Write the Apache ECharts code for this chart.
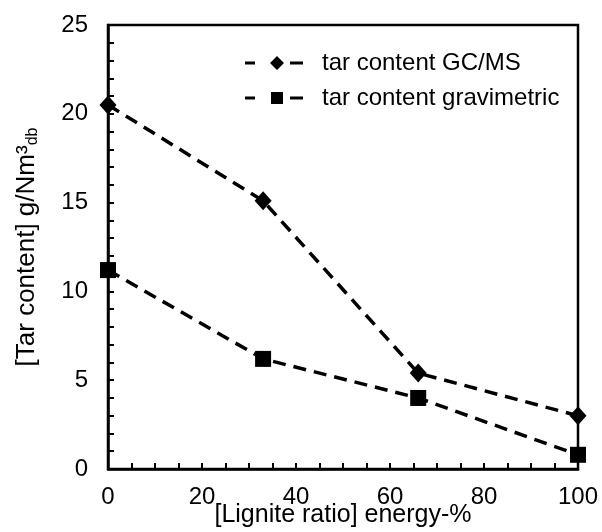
<!DOCTYPE html>
<html>
<head>
<meta charset="utf-8">
<script src="https://cdn.jsdelivr.net/npm/echarts@6/dist/echarts.min.js"></script>
<style>
  html, body { margin: 0; padding: 0; background: #fff; }
  #chart { width: 602px; height: 532px; }
</style>
</head>
<body>
<div id="chart"></div>
<script>
// Lignite share of the fuel energy input, %
const ligniteRatio = [0, 33, 66, 100];
// Tar content measured by GC/MS, g/Nm³ (dry basis)
const tarGCMS = [20.5, 15.1, 5.4, 3.0];
// Tar content measured gravimetrically, g/Nm³ (dry basis)
const tarGravimetric = [11.2, 6.2, 4.0, 0.8];

const seriesNames = ['tar content GC/MS', 'tar content gravimetric'];
const xTicks = [0, 20, 40, 60, 80, 100];
const yTicks = [0, 5, 10, 15, 20, 25];

const FONT = 'Liberation Sans, Arial, sans-serif';

function pairs(xs, ys) {
  return xs.map((x, i) => [x, ys[i]]);
}

// legend glyphs: dash, marker, dash
const iconDiamond = 'path://M0,5.5L10,5.5L10,8.5L0,8.5Z M25,7L32,0L39,7L32,14Z M45,5.5L58,5.5L58,8.5L45,8.5Z';
const iconSquare = 'path://M0,5.5L10,5.5L10,8.5L0,8.5Z M26,1L38,1L38,13L26,13Z M45,5.5L58,5.5L58,8.5L45,8.5Z M0,0L0.01,0L0.01,14L0,14Z';

const chart = echarts.init(document.getElementById('chart'), null, { renderer: 'canvas' });

const axisCommon = {
  axisLine: { show: true, lineStyle: { color: '#000', width: 2.5 } },
  axisTick: { show: true, inside: true, length: 6, lineStyle: { color: '#000', width: 2 } },
  minorTick: { show: true, length: 6, lineStyle: { color: '#000', width: 2 } },
  splitLine: { show: false },
  axisLabel: { color: '#000', fontFamily: FONT, fontSize: 24 },
  nameMoveOverlap: false
};

chart.setOption({
  backgroundColor: '#fff',
  animation: false,
  grid: {
    left: 108, right: 24, top: 25, bottom: 63,
    containLabel: false, outerBoundsMode: 'none',
    show: true, borderColor: '#000', borderWidth: 2.5, backgroundColor: 'transparent'
  },
  legend: {
    orient: 'vertical',
    left: 240, top: 46,
    itemWidth: 58, itemHeight: 14, itemGap: 11,
    textStyle: { color: '#000', fontFamily: FONT, fontSize: 24, padding: [0, 0, 0, 14] },
    data: [
      { name: seriesNames[0], icon: iconDiamond, itemStyle: { color: '#000' } },
      { name: seriesNames[1], icon: iconSquare, itemStyle: { color: '#000' } }
    ]
  },
  xAxis: Object.assign({}, axisCommon, {
    type: 'value', min: xTicks[0], max: xTicks[xTicks.length - 1], interval: 20,
    minorTick: Object.assign({}, axisCommon.minorTick, { splitNumber: 4 }),
    axisLabel: Object.assign({}, axisCommon.axisLabel, { margin: 16 }),
    name: '[Lignite ratio] energy-%',
    nameLocation: 'middle', nameGap: 34,
    nameTextStyle: { color: '#000', fontFamily: FONT, fontSize: 25 }
  }),
  yAxis: Object.assign({}, axisCommon, {
    type: 'value', min: yTicks[0], max: yTicks[yTicks.length - 1], interval: 5,
    minorTick: Object.assign({}, axisCommon.minorTick, { splitNumber: 5 }),
    axisLabel: Object.assign({}, axisCommon.axisLabel, { margin: 20 }),
    name: '[Tar content] g/Nm³{sub|db}',
    nameLocation: 'middle', nameGap: 67,
    nameTextStyle: {
      color: '#000', fontFamily: FONT, fontSize: 26,
      rich: { sub: { fontFamily: FONT, fontSize: 16, verticalAlign: 'bottom', padding: [12, 0, 0, 0] } }
    }
  }),
  series: [
    {
      name: seriesNames[0], type: 'line',
      data: pairs(ligniteRatio, tarGCMS),
      symbol: 'diamond', symbolSize: [17, 19],
      itemStyle: { color: '#000' },
      lineStyle: { color: '#000', width: 3.5, type: [13, 8] }
    },
    {
      name: seriesNames[1], type: 'line',
      data: pairs(ligniteRatio, tarGravimetric),
      symbol: 'rect', symbolSize: 16,
      itemStyle: { color: '#000' },
      lineStyle: { color: '#000', width: 3.5, type: [13, 8] }
    }
  ]
});
</script>
</body>
</html>
